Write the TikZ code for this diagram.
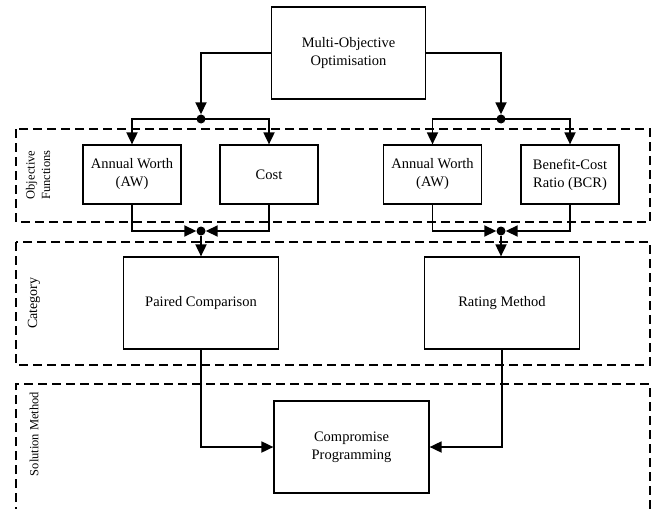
\documentclass[tikz,border=0pt]{standalone}
\usepackage{fontspec}
\setmainfont{Liberation Serif}
\usetikzlibrary{arrows.meta}
\begin{document}
\begin{tikzpicture}[x=1pt,y=-1pt,
  box/.style={draw, line width=1.2pt, rectangle, align=center, font=\fontsize{14.5}{18}\selectfont, inner sep=0pt},
  conn/.style={line width=1.8pt, -{Triangle[length=12pt,width=11pt]}},
  zone/.style={draw, line width=1.2pt, dash pattern=on 9pt off 5pt},
  lab/.style={rotate=90, align=center, font=\fontsize{12.5}{15.5}\selectfont, inner sep=0pt},
  jdot/.style={circle, fill, inner sep=0pt, minimum size=9pt}]
\useasboundingbox (0,0) rectangle (655,508);
% zones
\draw[zone] (16,129) rectangle (650,222);
\draw[zone] (16,242) rectangle (650,365);
\draw[zone] (16,530) |- (650,384) -- (650,530);
% labels
\node[lab] (lof) at (38,175) {Objective\\Functions};
\node[lab, font=\fontsize{14}{16}\selectfont] (lcat) at (34,303) {Category};
\node[lab] (lsm) at (34,434) {Solution Method};
% boxes
\node[box, minimum width=154pt, minimum height=92pt] (mo) at (348.5,53) {Multi-Objective\\Optimisation};
\node[box, minimum width=98pt, minimum height=59pt] (aw1) at (132,174.5) {Annual Worth\\(AW)};
\node[box, minimum width=98pt, minimum height=59pt] (cost) at (269,174.5) {Cost};
\node[box, minimum width=98pt, minimum height=59pt] (aw2) at (432.5,174.5) {Annual Worth\\(AW)};
\node[box, minimum width=98pt, minimum height=59pt] (bcr) at (570,174.5) {Benefit-Cost\\Ratio (BCR)};
\node[box, minimum width=155pt, minimum height=92pt] (pc) at (201,303) {Paired Comparison};
\node[box, minimum width=155pt, minimum height=92pt] (rm) at (502,303) {Rating Method};
\node[box, minimum width=155pt, minimum height=92pt] (cp) at (351.5,447) {Compromise\\Programming};
% junctions
\node[jdot] (d1) at (201,119) {};
\node[jdot] (d2) at (501,119) {};
\node[jdot] (d3) at (201,231) {};
\node[jdot] (d4) at (501,231) {};
% connectors
\draw[conn] (mo.west) -| (d1.north);
\draw[conn] (mo.east) -| (d2.north);
\draw[conn] (d1.center) -| (aw1.north);
\draw[conn] (d1.center) -| (cost.north);
\draw[conn] (d2.center) -| (aw2.north);
\draw[conn] (d2.center) -| (bcr.north);
\draw[conn] (aw1.south) |- (d3.west);
\draw[conn] (cost.south) |- (d3.east);
\draw[conn] (aw2.south) |- (d4.west);
\draw[conn] (bcr.south) |- (d4.east);
\draw[conn] (d3.south) -- (pc.north);
\draw[conn] (d4.south) -- (d4.south |- rm.north);
\draw[conn] (pc.south) |- (cp.west);
\draw[conn] (rm.south) |- (cp.east);
\end{tikzpicture}
\end{document}
